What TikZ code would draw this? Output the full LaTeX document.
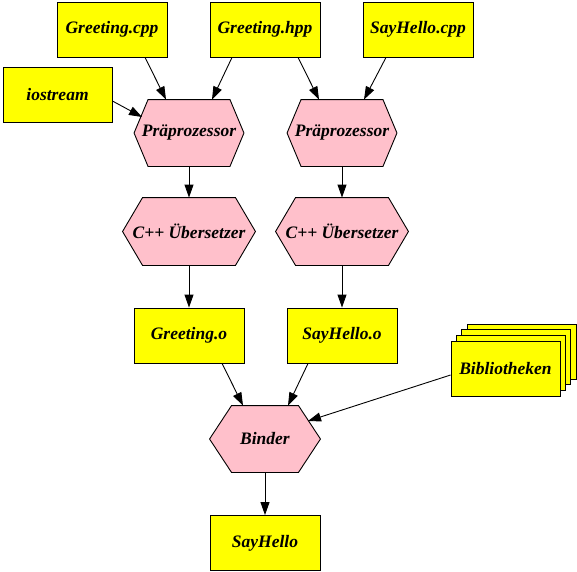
\documentclass[tikz,border=0pt]{standalone}
\usepackage{fontspec}
\setmainfont{Liberation Serif}
\usetikzlibrary{arrows.meta,calc,backgrounds}
\definecolor{boxyellow}{HTML}{FFFF00}
\definecolor{hexpink}{HTML}{FFC0CB}
\tikzset{
  base/.style={font=\fontsize{17.5}{20}\selectfont\bfseries\itshape, inner sep=0pt, line width=0.9pt},
  filebox/.style={base, rectangle, draw=black, fill=boxyellow, minimum width=110pt, minimum height=55pt},
  hexbox/.style={base, rectangle, draw=none, fill=none, minimum width=#1, minimum height=66pt},
  hexbox/.default=109pt,
  hexshape/.style={fill=hexpink, draw=black, line width=0.9pt, line join=miter},
  arr/.style={-{Triangle[length=13pt,width=9pt]}, line width=0.9pt}
}
\begin{document}
\begin{tikzpicture}[x=1pt,y=-1pt]
\useasboundingbox (0,0) rectangle (577,571);
\node[filebox] (gcpp) at (112,29.5) {Greeting.cpp};
\node[filebox] (ghpp) at (265,29.5) {Greeting.hpp};
\node[filebox] (scpp) at (418,29.5) {SayHello.cpp};
\node[filebox, minimum width=109pt] (ios) at (57.5,95) {iostream};
\node[hexbox] (pr1) at (189,133) {Präprozessor};
\node[hexbox] (pr2) at (342,133) {Präprozessor};
\node[hexbox=132pt, minimum height=67pt] (cc1) at (189,231.5) {C++ Übersetzer};
\node[hexbox=132pt, minimum height=67pt] (cc2) at (342,231.5) {C++ Übersetzer};
\node[filebox] (go) at (189,335.5) {Greeting.o};
\node[filebox] (so) at (342,335.5) {SayHello.o};
\node[hexbox=110pt] (bin) at (265,439) {Binder};
\node[filebox] (sh) at (265,543) {SayHello};
% stacked library boxes
\node[filebox, minimum width=109pt] (bib3) at (521.5,351.5) {};
\node[filebox, minimum width=109pt] (bib2) at (516.2,357.2) {};
\node[filebox, minimum width=109pt] (bib1) at (510.8,362.8) {};
\node[filebox, minimum width=109pt] (bib) at (505.5,368.5) {Bibliotheken};
% hexagon outlines behind the hexagon labels
\begin{scope}[on background layer]
\foreach \n/\s in {pr1/14,pr2/14,cc1/20,cc2/20,bin/22}{
  \path[hexshape] (\n.west) -- ($(\n.north west)+(\s,0)$) -- ($(\n.north east)+(-\s,0)$)
    -- (\n.east) -- ($(\n.south east)+(-\s,0)$) -- ($(\n.south west)+(\s,0)$) -- cycle;
}
\end{scope}
% connectors
\draw[arr] ($(gcpp.south)+(33,0)$) -- ($(pr1.north)+(-23,0)$);
\draw[arr] ($(ghpp.south)+(-33,0)$) -- ($(pr1.north)+(23,0)$);
\draw[arr] ($(ghpp.south)+(33,0)$) -- ($(pr2.north)+(-23,0)$);
\draw[arr] ($(scpp.south)+(-32,0)$) -- ($(pr2.north)+(22,0)$);
\draw[arr] ($(ios.east)+(0,6)$) -- ($(pr1.center)+(-47,-16)$);
\draw[arr] (pr1.south) -- (cc1.north);
\draw[arr] (pr2.south) -- (cc2.north);
\draw[arr] (cc1.south) -- (go.north);
\draw[arr] (cc2.south) -- (so.north);
\draw[arr] ($(go.south)+(33,0)$) -- ($(bin.north)+(-22,0)$);
\draw[arr] ($(so.south)+(-34,0)$) -- ($(bin.north)+(23,0)$);
\draw[arr] ($(bib.west)+(0,6.5)$) -- ($(bin.center)+(43,-18)$);
\draw[arr] (bin.south) -- (sh.north);
\end{tikzpicture}
\end{document}
